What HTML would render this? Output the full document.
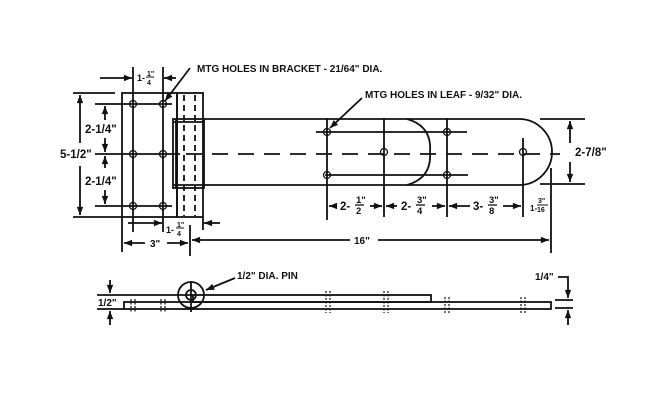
<!DOCTYPE html>
<html><head><meta charset="utf-8"><style>
html,body{margin:0;padding:0;background:#fff}
svg{display:block}
text{font-family:"Liberation Sans",Arial,sans-serif;font-weight:bold;fill:#111}
</style></head><body>
<svg width="650" height="408" viewBox="0 0 650 408" xmlns="http://www.w3.org/2000/svg">
<defs>
<marker id="a" viewBox="0 0 10 10" refX="10" refY="5" markerWidth="6" markerHeight="4.5" orient="auto-start-reverse"><path d="M0,1 L10,5 L0,9 z" fill="#111"/></marker>
</defs>
<g stroke="#111" stroke-width="1.8" fill="none">
<rect x="122" y="93" width="55" height="124"/>
<rect x="177" y="93" width="26" height="124"/>
<line x1="184" y1="95" x2="184" y2="216" stroke-dasharray="6,4"/>
<line x1="195" y1="95" x2="195" y2="216" stroke-dasharray="6,4"/>
<rect x="173" y="119" width="31" height="69"/>
<line x1="176" y1="119" x2="176" y2="188"/>
<line x1="173" y1="122" x2="204" y2="122"/>
<line x1="173" y1="185" x2="204" y2="185"/>
<path d="M204,119 H519 A33,33 0 0 1 519,185 H204"/>
<path d="M407,119 Q432,126 430,152 Q432,178 407,185"/>
<line x1="95" y1="104" x2="172" y2="104"/>
<line x1="95" y1="154" x2="180" y2="154"/>
<line x1="95" y1="206" x2="172" y2="206"/>
<line x1="186" y1="154" x2="560" y2="154" stroke-dasharray="16,10"/>
<line x1="316" y1="132" x2="467" y2="132"/>
<line x1="325" y1="175" x2="468" y2="175"/>
<line x1="133" y1="67" x2="133" y2="232"/>
<line x1="163" y1="67" x2="163" y2="232"/>
<line x1="327" y1="118" x2="327" y2="220"/>
<line x1="384" y1="118" x2="384" y2="217"/>
<line x1="447" y1="118" x2="447" y2="217"/>
<line x1="523" y1="138" x2="523" y2="217"/>
<line x1="551" y1="168" x2="551" y2="253"/>
<g stroke-width="1.3">
<circle cx="133" cy="104" r="3.5"/><circle cx="163" cy="104" r="3.5"/>
<circle cx="133" cy="154" r="3.5"/><circle cx="163" cy="154" r="3.5"/>
<circle cx="133" cy="206" r="3.5"/><circle cx="163" cy="206" r="3.5"/>
<circle cx="327" cy="132" r="3.5"/><circle cx="327" cy="175" r="3.5"/>
<circle cx="384" cy="152" r="3.5"/>
<circle cx="447" cy="132" r="3.5"/><circle cx="447" cy="175" r="3.5"/>
<circle cx="523" cy="152" r="3.5"/>
</g>
<line x1="73" y1="93" x2="115" y2="93"/><line x1="73" y1="217" x2="122" y2="217"/>
<line x1="80" y1="95" x2="80" y2="143" marker-start="url(#a)"/>
<line x1="80" y1="166" x2="80" y2="215" marker-end="url(#a)"/>
<line x1="105" y1="106" x2="105" y2="120" marker-start="url(#a)"/>
<line x1="105" y1="138" x2="105" y2="152" marker-end="url(#a)"/>
<line x1="105" y1="156" x2="105" y2="168" marker-start="url(#a)"/>
<line x1="105" y1="190" x2="105" y2="204" marker-end="url(#a)"/>
<line x1="100" y1="78" x2="132" y2="78" marker-end="url(#a)"/>
<line x1="176" y1="78" x2="164" y2="78" marker-end="url(#a)"/>
<line x1="128" y1="223" x2="162" y2="223" marker-end="url(#a)"/>
<line x1="220" y1="223" x2="204" y2="223" marker-end="url(#a)"/>
<line x1="203" y1="217" x2="203" y2="230"/>
<line x1="122" y1="217" x2="122" y2="252"/>
<line x1="190" y1="225" x2="190" y2="256"/>
<line x1="124" y1="243" x2="145" y2="243" marker-start="url(#a)"/>
<line x1="167" y1="243" x2="188" y2="243" marker-end="url(#a)"/>
<line x1="192" y1="240" x2="350" y2="240" marker-start="url(#a)"/>
<line x1="378" y1="240" x2="549" y2="240" marker-end="url(#a)"/>
<line x1="329" y1="206" x2="337" y2="206" marker-start="url(#a)"/>
<line x1="370" y1="206" x2="382" y2="206" marker-end="url(#a)"/>
<line x1="386" y1="206" x2="397" y2="206" marker-start="url(#a)"/>
<line x1="432" y1="206" x2="445" y2="206" marker-end="url(#a)"/>
<line x1="449" y1="206" x2="470" y2="206" marker-start="url(#a)"/>
<line x1="503" y1="206" x2="521" y2="206" marker-end="url(#a)"/>
<line x1="540" y1="119" x2="585" y2="119"/><line x1="540" y1="184" x2="585" y2="184"/>
<line x1="570" y1="121" x2="570" y2="143" marker-start="url(#a)"/>
<line x1="570" y1="162" x2="570" y2="182" marker-end="url(#a)"/>
<line x1="190" y1="68" x2="165" y2="101" marker-end="url(#a)"/>
<line x1="362" y1="98" x2="330" y2="128" marker-end="url(#a)"/>
<rect x="124" y="302" width="427" height="7"/>
<rect x="193" y="295" width="238" height="7"/>
<line x1="97" y1="295" x2="193" y2="295"/>
<line x1="97" y1="309" x2="124" y2="309"/>
<circle cx="191" cy="295" r="13"/>
<circle cx="191" cy="295" r="5"/>
<line x1="191" y1="281" x2="191" y2="312"/>
<line x1="110" y1="280" x2="110" y2="293" marker-end="url(#a)"/>
<line x1="110" y1="325" x2="110" y2="311" marker-end="url(#a)"/>
<line x1="235" y1="278" x2="206" y2="290" marker-end="url(#a)"/>
<line x1="555" y1="300" x2="573" y2="300"/><line x1="555" y1="308" x2="573" y2="308"/>
<polyline points="558,277 568,277 568,298" marker-end="url(#a)"/>
<line x1="568" y1="325" x2="568" y2="310" marker-end="url(#a)"/>
</g>
<g stroke="#111" stroke-width="1.2" stroke-dasharray="2,1.5">
<line x1="131" y1="299" x2="131" y2="312"/><line x1="135" y1="299" x2="135" y2="312"/>
<line x1="161" y1="299" x2="161" y2="312"/><line x1="165" y1="299" x2="165" y2="312"/>
<line x1="326" y1="291" x2="326" y2="313"/><line x1="330" y1="291" x2="330" y2="313"/>
<line x1="384" y1="291" x2="384" y2="313"/><line x1="388" y1="291" x2="388" y2="313"/>
<line x1="445" y1="297" x2="445" y2="313"/><line x1="449" y1="297" x2="449" y2="313"/>
<line x1="521" y1="297" x2="521" y2="313"/><line x1="525" y1="297" x2="525" y2="313"/>
</g>
<g font-size="10">
<text x="197" y="72">MTG HOLES IN BRACKET - 21/64" DIA.</text>
<text x="365" y="98">MTG HOLES IN LEAF - 9/32" DIA.</text>
<text x="60" y="158" font-size="11.5">5-1/2"</text>
<text x="85" y="133" font-size="11.5">2-1/4"</text>
<text x="85" y="185" font-size="11.5">2-1/4"</text>
<text x="137" y="81" font-size="9">1-</text>
<text x="147" y="76" font-size="7">1"</text>
<line x1="146" y1="77" x2="154" y2="77" stroke="#111"/>
<text x="147" y="85" font-size="7">4</text>
<text x="166" y="233" font-size="9">1-</text>
<text x="177" y="227" font-size="7">1"</text>
<line x1="176" y1="228" x2="184" y2="228" stroke="#111"/>
<text x="177" y="236" font-size="7">4</text>
<text x="150" y="247">3"</text>
<text x="354" y="244">16"</text>
<text x="340" y="210" font-size="11.5">2-</text>
<text x="356" y="203" font-size="9.5">1"</text><line x1="355" y1="205" x2="364" y2="205" stroke="#111" stroke-width="1.3"/><text x="356" y="214" font-size="9.5">2</text>
<text x="401" y="210" font-size="11.5">2-</text>
<text x="417" y="203" font-size="9.5">3"</text><line x1="416" y1="205" x2="425" y2="205" stroke="#111" stroke-width="1.3"/><text x="417" y="214" font-size="9.5">4</text>
<text x="473" y="210" font-size="11.5">3-</text>
<text x="489" y="203" font-size="9.5">3"</text><line x1="488" y1="205" x2="497" y2="205" stroke="#111" stroke-width="1.3"/><text x="489" y="214" font-size="9.5">8</text>
<text x="530" y="211" font-size="8">1-</text>
<text x="538" y="203" font-size="7">3"</text><line x1="537" y1="205" x2="548" y2="205" stroke="#111"/><text x="537" y="212" font-size="7">16</text>
<text x="575" y="156" font-size="11.5">2-7/8"</text>
<text x="237" y="279">1/2" DIA. PIN</text>
<text x="98" y="306">1/2"</text>
<text x="535" y="280">1/4"</text>
</g>
</svg>
</body></html>
